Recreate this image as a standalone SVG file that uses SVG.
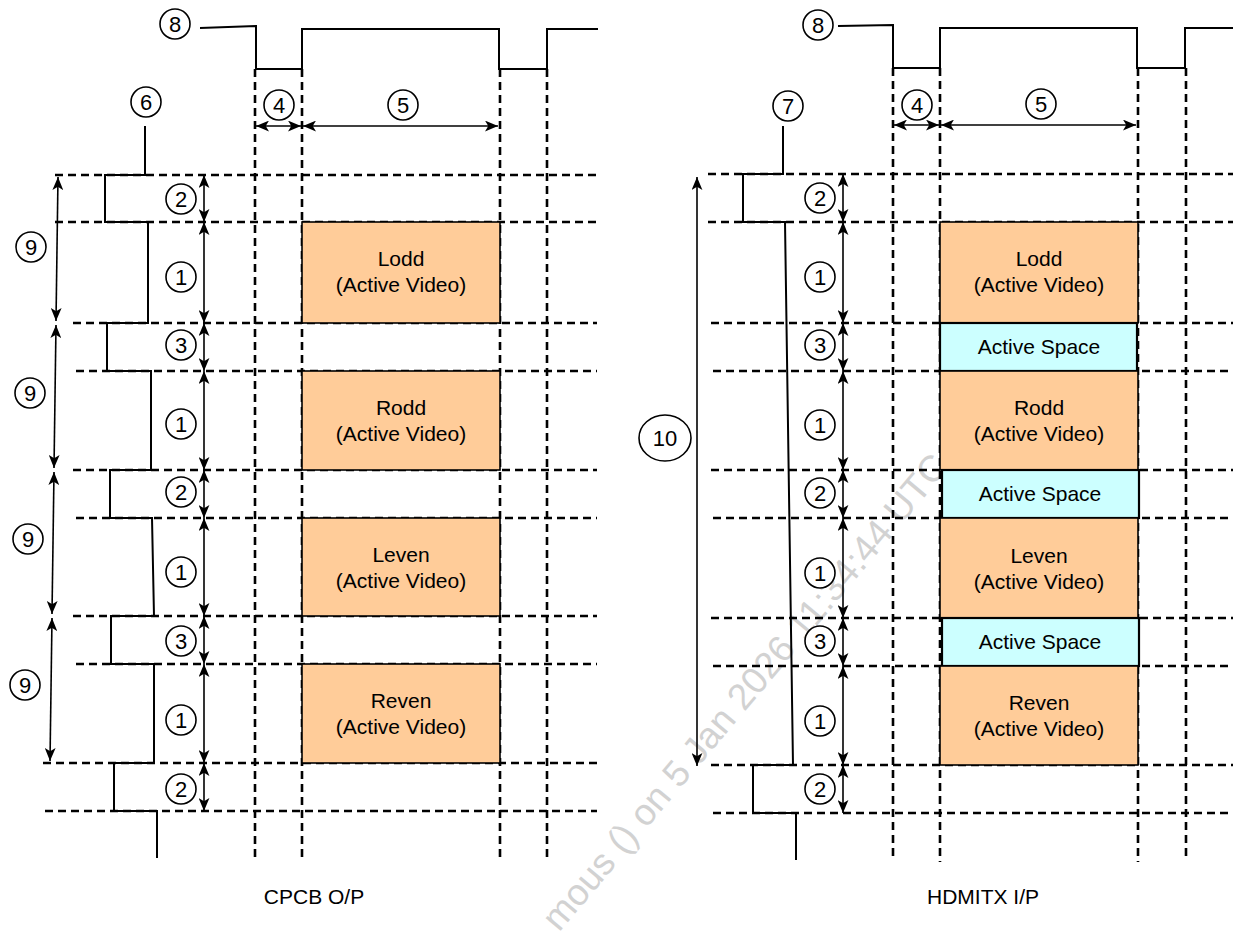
<svg xmlns="http://www.w3.org/2000/svg" width="1233" height="941" viewBox="0 0 1233 941">
<style>
.dash{stroke:#000;stroke-width:2.6;stroke-dasharray:8,5;fill:none}
.wave{stroke:#000;stroke-width:2;fill:none}
.dim{stroke:#000;stroke-width:1.6;fill:none;marker-start:url(#ah);marker-end:url(#ah)}
.lbl circle,.lbl ellipse{fill:#fff;stroke:#000;stroke-width:1.6}
.lbl text{font-family:"Liberation Sans",Arial,sans-serif;font-size:22px;text-anchor:middle;fill:#000}
.vid rect{fill:#FFCC99;stroke:#000;stroke-width:1.6}
.spc rect{fill:#CCFFFF;stroke:#000;stroke-width:2.2}
.box text{font-family:"Liberation Sans",Arial,sans-serif;font-size:21px;text-anchor:middle;fill:#000}
.cap{font-family:"Liberation Sans",Arial,sans-serif;font-size:21px;text-anchor:middle;fill:#000}
.wm{font-family:"Liberation Sans",Arial,sans-serif;font-size:37px;fill:#d2d2d2}
</style>
<defs>
<marker id="ah" viewBox="0 0 12 10" refX="12" refY="5" markerWidth="13" markerHeight="11" markerUnits="userSpaceOnUse" orient="auto-start-reverse">
<path d="M0,0 L12,5 L0,10 L3,5 Z" fill="#000"/>
</marker>
</defs>
<rect width="1233" height="941" fill="#fff"/>

<g id="watermark">
<text class="wm" text-anchor="end" transform="translate(950,467) rotate(-50)">mous () on 5 Jan 2026 11:34:44 UTC</text>
</g>

<g id="connectors">
<g id="left-grid">
<line class="dash" x1="55" y1="175" x2="597" y2="175"/>
<line class="dash" x1="55" y1="222" x2="597" y2="222"/>
<line class="dash" x1="73" y1="323" x2="597" y2="323"/>
<line class="dash" x1="76" y1="371" x2="597" y2="371"/>
<line class="dash" x1="73" y1="470" x2="597" y2="470"/>
<line class="dash" x1="76" y1="518" x2="597" y2="518"/>
<line class="dash" x1="73" y1="616" x2="597" y2="616"/>
<line class="dash" x1="76" y1="664" x2="597" y2="664"/>
<line class="dash" x1="43" y1="763" x2="597" y2="763"/>
<line class="dash" x1="45" y1="811" x2="597" y2="811"/>
<line class="dash" x1="255" y1="69" x2="255" y2="860"/>
<line class="dash" x1="302" y1="69" x2="302" y2="862"/>
<line class="dash" x1="500" y1="69" x2="500" y2="862"/>
<line class="dash" x1="547" y1="69" x2="547" y2="860"/>
</g>
<g id="right-grid">
<line class="dash" x1="708" y1="174" x2="1233" y2="174"/>
<line class="dash" x1="708" y1="222" x2="1233" y2="222"/>
<line class="dash" x1="711" y1="323" x2="1233" y2="323"/>
<line class="dash" x1="713" y1="371" x2="1233" y2="371"/>
<line class="dash" x1="711" y1="470" x2="1233" y2="470"/>
<line class="dash" x1="713" y1="518" x2="1233" y2="518"/>
<line class="dash" x1="711" y1="618" x2="1233" y2="618"/>
<line class="dash" x1="713" y1="666" x2="1233" y2="666"/>
<line class="dash" x1="711" y1="765" x2="1233" y2="765"/>
<line class="dash" x1="713" y1="813" x2="1233" y2="813"/>
<line class="dash" x1="893" y1="68" x2="893" y2="860"/>
<line class="dash" x1="940" y1="68" x2="940" y2="862"/>
<line class="dash" x1="1138" y1="68" x2="1138" y2="862"/>
<line class="dash" x1="1186" y1="68" x2="1186" y2="860"/>
</g>
<path class="wave" d="M200,28 L256,26 V69 H302 V29 H499 V69 H547 V29 H598"/>
<path class="wave" d="M145,126 V175 H105 V222 H148 V323 H107 V371 H151 V470 H110 V518 H152 L154,616 H111 V664 H154 V763 H114 V811 H157 V858"/>
<path class="wave" d="M838,26 L893,25 V68 H940 V28 H1137 V68 H1185 V28 H1233"/>
<path class="wave" d="M783,126 V174 H743 V222 H785 L793,765 H753 V813 H796 V860"/>
<line class="dim" x1="256" y1="126" x2="301" y2="126"/>
<line class="dim" x1="303" y1="126" x2="498" y2="126"/>
<line class="dim" x1="204" y1="175" x2="204" y2="222"/>
<line class="dim" x1="204" y1="222" x2="204" y2="323"/>
<line class="dim" x1="204" y1="323" x2="204" y2="371"/>
<line class="dim" x1="204" y1="371" x2="204" y2="470"/>
<line class="dim" x1="204" y1="470" x2="204" y2="518"/>
<line class="dim" x1="204" y1="518" x2="204" y2="616"/>
<line class="dim" x1="204" y1="616" x2="204" y2="664"/>
<line class="dim" x1="204" y1="664" x2="204" y2="763"/>
<line class="dim" x1="204" y1="763" x2="204" y2="811"/>
<line class="dim" x1="58" y1="177" x2="56" y2="321"/>
<line class="dim" x1="56" y1="325" x2="54" y2="468"/>
<line class="dim" x1="54" y1="472" x2="52" y2="614"/>
<line class="dim" x1="52" y1="618" x2="50" y2="761"/>
<line class="dim" x1="894" y1="125" x2="939" y2="125"/>
<line class="dim" x1="941" y1="125" x2="1136" y2="125"/>
<line class="dim" x1="843" y1="174" x2="843" y2="222"/>
<line class="dim" x1="843" y1="222" x2="843" y2="323"/>
<line class="dim" x1="843" y1="323" x2="843" y2="371"/>
<line class="dim" x1="843" y1="371" x2="843" y2="470"/>
<line class="dim" x1="843" y1="470" x2="843" y2="518"/>
<line class="dim" x1="843" y1="518" x2="843" y2="618"/>
<line class="dim" x1="843" y1="618" x2="843" y2="666"/>
<line class="dim" x1="843" y1="666" x2="843" y2="765"/>
<line class="dim" x1="843" y1="765" x2="843" y2="813"/>
<line class="dim" x1="697" y1="177" x2="697" y2="766"/>
</g>

<g id="L-lodd" class="box vid"><rect x="302" y="222" width="198" height="101"/><text x="401" y="266">Lodd</text><text x="401" y="292">(Active Video)</text></g>
<g id="L-rodd" class="box vid"><rect x="302" y="371" width="198" height="99"/><text x="401" y="415">Rodd</text><text x="401" y="441">(Active Video)</text></g>
<g id="L-leven" class="box vid"><rect x="302" y="518" width="198" height="98"/><text x="401" y="562">Leven</text><text x="401" y="588">(Active Video)</text></g>
<g id="L-reven" class="box vid"><rect x="302" y="664" width="198" height="99"/><text x="401" y="708">Reven</text><text x="401" y="734">(Active Video)</text></g>

<g id="R-lodd" class="box vid"><rect x="940" y="222" width="198" height="101"/><text x="1039" y="266">Lodd</text><text x="1039" y="292">(Active Video)</text></g>
<g id="R-space1" class="box spc"><rect x="940" y="323" width="197" height="48"/><text x="1039" y="354">Active Space</text></g>
<g id="R-rodd" class="box vid"><rect x="940" y="371" width="198" height="99"/><text x="1039" y="415">Rodd</text><text x="1039" y="441">(Active Video)</text></g>
<g id="R-space2" class="box spc"><rect x="942" y="470" width="197" height="48"/><text x="1040" y="501">Active Space</text></g>
<g id="R-leven" class="box vid"><rect x="940" y="518" width="198" height="100"/><text x="1039" y="563">Leven</text><text x="1039" y="589">(Active Video)</text></g>
<g id="R-space3" class="box spc"><rect x="942" y="618" width="197" height="48"/><text x="1040" y="649">Active Space</text></g>
<g id="R-reven" class="box vid"><rect x="940" y="666" width="198" height="99"/><text x="1039" y="710">Reven</text><text x="1039" y="736">(Active Video)</text></g>

<g id="L-l8" class="lbl"><circle cx="175" cy="24" r="15"/><text x="175" y="32">8</text></g>
<g id="L-l6" class="lbl"><circle cx="146" cy="102" r="15"/><text x="146" y="110">6</text></g>
<g id="L-l4" class="lbl"><circle cx="279" cy="105" r="15"/><text x="279" y="113">4</text></g>
<g id="L-l5" class="lbl"><circle cx="403" cy="105" r="15"/><text x="403" y="113">5</text></g>
<g id="L-a2" class="lbl"><circle cx="181" cy="199" r="15"/><text x="181" y="207">2</text></g>
<g id="L-a1" class="lbl"><circle cx="181" cy="277" r="15"/><text x="181" y="285">1</text></g>
<g id="L-a3" class="lbl"><circle cx="181" cy="345" r="15"/><text x="181" y="353">3</text></g>
<g id="L-b1" class="lbl"><circle cx="181" cy="424" r="15"/><text x="181" y="432">1</text></g>
<g id="L-b2" class="lbl"><circle cx="181" cy="492" r="15"/><text x="181" y="500">2</text></g>
<g id="L-c1" class="lbl"><circle cx="181" cy="572" r="15"/><text x="181" y="580">1</text></g>
<g id="L-c3" class="lbl"><circle cx="181" cy="641" r="15"/><text x="181" y="649">3</text></g>
<g id="L-d1" class="lbl"><circle cx="181" cy="720" r="15"/><text x="181" y="728">1</text></g>
<g id="L-d2" class="lbl"><circle cx="181" cy="789" r="15"/><text x="181" y="797">2</text></g>
<g id="L-n9a" class="lbl"><circle cx="31" cy="247" r="15"/><text x="31" y="255">9</text></g>
<g id="L-n9b" class="lbl"><circle cx="30" cy="393" r="15"/><text x="30" y="401">9</text></g>
<g id="L-n9c" class="lbl"><circle cx="28" cy="539" r="15"/><text x="28" y="547">9</text></g>
<g id="L-n9d" class="lbl"><circle cx="25" cy="685" r="15"/><text x="25" y="693">9</text></g>

<g id="R-l8" class="lbl"><circle cx="818" cy="25" r="15"/><text x="818" y="33">8</text></g>
<g id="R-l7" class="lbl"><circle cx="788" cy="106" r="15"/><text x="788" y="114">7</text></g>
<g id="R-l4" class="lbl"><circle cx="917" cy="105" r="15"/><text x="917" y="113">4</text></g>
<g id="R-l5" class="lbl"><circle cx="1041" cy="104" r="15"/><text x="1041" y="112">5</text></g>
<g id="R-a2" class="lbl"><circle cx="820" cy="198" r="15"/><text x="820" y="206">2</text></g>
<g id="R-a1" class="lbl"><circle cx="820" cy="277" r="15"/><text x="820" y="285">1</text></g>
<g id="R-a3" class="lbl"><circle cx="820" cy="345" r="15"/><text x="820" y="353">3</text></g>
<g id="R-b1" class="lbl"><circle cx="820" cy="425" r="15"/><text x="820" y="433">1</text></g>
<g id="R-b2" class="lbl"><circle cx="820" cy="493" r="15"/><text x="820" y="501">2</text></g>
<g id="R-c1" class="lbl"><circle cx="820" cy="573" r="15"/><text x="820" y="581">1</text></g>
<g id="R-c3" class="lbl"><circle cx="820" cy="641" r="15"/><text x="820" y="649">3</text></g>
<g id="R-d1" class="lbl"><circle cx="820" cy="721" r="15"/><text x="820" y="729">1</text></g>
<g id="R-d2" class="lbl"><circle cx="820" cy="789" r="15"/><text x="820" y="797">2</text></g>
<g id="R-n10" class="lbl"><ellipse cx="665" cy="438" rx="26" ry="23"/><text x="665" y="446">10</text></g>

<g id="captions">
<text class="cap" x="314" y="904">CPCB O/P</text>
<text class="cap" x="983" y="904">HDMITX I/P</text>
</g>
</svg>
